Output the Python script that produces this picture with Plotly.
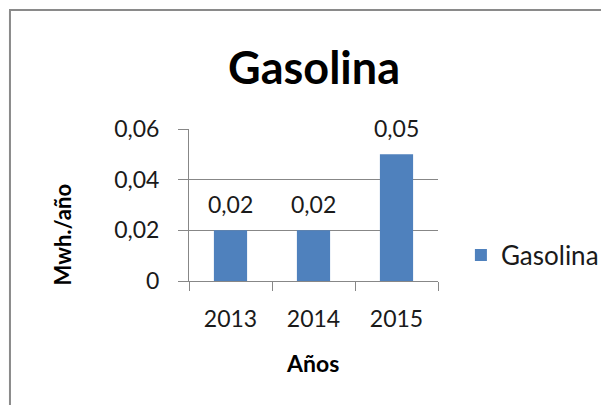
import plotly.graph_objects as go

categories = ["2013", "2014", "2015"]
values = [0.02, 0.02, 0.05]
value_labels = ["0,02", "0,02", "0,05"]
y_tickvals = [0, 0.02, 0.04, 0.06]
y_ticktext = ["0", "0,02", "0,04", "0,06"]
series_name = "Gasolina"
title_text = "Gasolina"
x_title = "Años"
y_title = "Mwh./año"

FONT = "Lato"
BAR = "#4F81BD"
GRID = "#878787"

fig = go.Figure()
fig.add_trace(go.Bar(
    x=categories, y=values, name=series_name,
    marker=dict(color=BAR, line=dict(width=0)),
    cliponaxis=False,
))

for i, (v, t) in enumerate(zip(values, value_labels)):
    fig.add_annotation(x=i, y=v, text=t, xref="x", yref="y",
                       showarrow=False, xanchor="center", yanchor="bottom", yshift=10,
                       font=dict(family=FONT, size=23, color="#1a1a1a"))

fig.add_annotation(x=-0.51, y=0.30, xref="paper", yref="paper", text=y_title,
                   textangle=-90, showarrow=False, xanchor="center", yanchor="middle",
                   font=dict(family=FONT, size=22, color="#000", weight="bold"))
fig.add_annotation(x=0.494, y=-0.54, xref="paper", yref="paper", text=x_title,
                   showarrow=False, xanchor="center", yanchor="middle",
                   font=dict(family=FONT, size=23, color="#000", weight="bold"))

fig.add_shape(type="rect", xref="paper", yref="paper",
              x0=-0.719, y0=-2, x1=2, y1=1.783,
              line=dict(color="#8a8a8a", width=2), layer="below")

fig.update_layout(
    width=609, height=405, autosize=False,
    margin=dict(l=181, r=179, t=121, b=132, pad=0),
    paper_bgcolor="white", plot_bgcolor="white",
    separators=",.",
    bargap=0.6,
    title=dict(text=title_text, x=0.5025, xref="container", xanchor="center",
               y=0.852, yref="container", yanchor="middle",
               font=dict(family=FONT, size=45, color="#000", weight="bold")),
    legend=dict(x=1.092, y=0.171, xanchor="left", yanchor="middle",
                font=dict(family=FONT, size=26, color="#1a1a1a"),
                bgcolor="rgba(0,0,0,0)"),
    showlegend=True,
)
fig.update_xaxes(type="category", range=[-0.5, 2.5], automargin=False,
                 showline=True, linecolor=GRID, linewidth=1,
                 ticks="outside", tickson="boundaries", ticklen=9, tickcolor=GRID,
                 ticklabelstandoff=17, showgrid=False, tickangle=0,
                 tickfont=dict(family=FONT, size=23, color="#1a1a1a"))
fig.update_yaxes(range=[0, 0.06], tickvals=y_tickvals, ticktext=y_ticktext,
                 automargin=False,
                 showline=True, linecolor=GRID, linewidth=1,
                 ticks="outside", ticklen=10, tickcolor=GRID,
                 ticklabelstandoff=14, showgrid=True, gridcolor=GRID, gridwidth=1,
                 zeroline=False,
                 tickfont=dict(family=FONT, size=23, color="#1a1a1a"))

fig.write_html("out.html")
